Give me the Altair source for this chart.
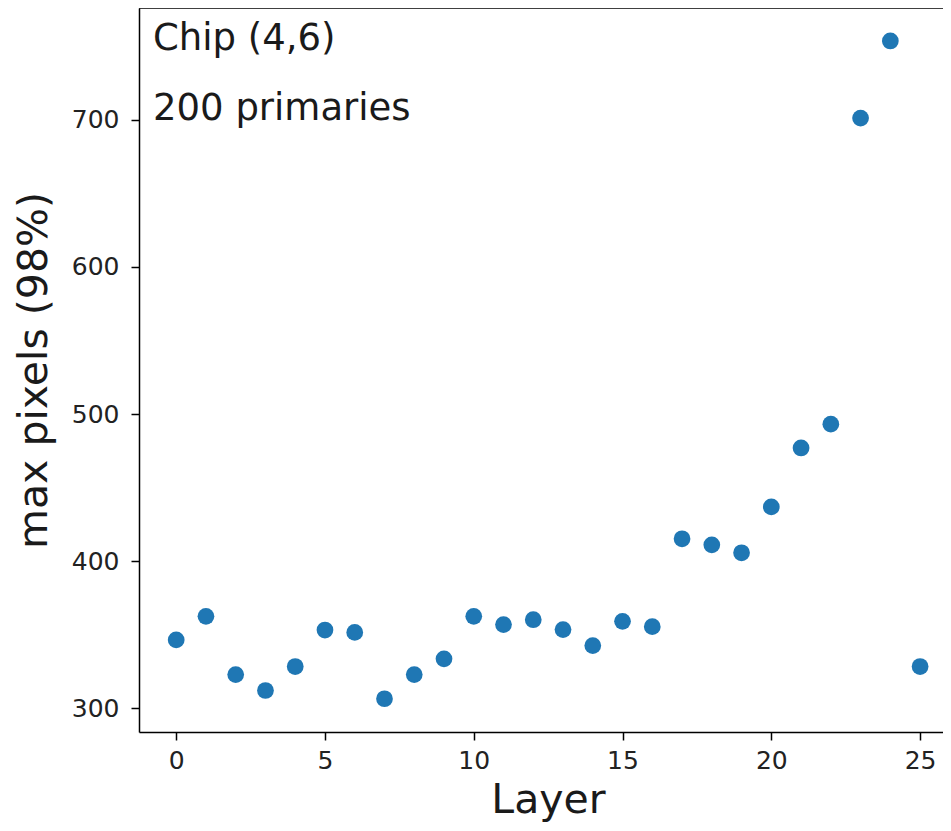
import altair as alt
import pandas as pd

layers = list(range(26))
max_pixels = [346.6, 362.6, 323.0, 312.2, 328.5, 353.3, 351.7, 306.6, 323.0, 333.7,
              362.6, 357.0, 360.3, 353.6, 342.7, 359.2, 355.6, 415.3, 411.2, 405.8,
              437.0, 477.0, 493.2, 701.2, 753.6, 328.5]
x_ticks = [0, 5, 10, 15, 20, 25]
y_ticks = [300, 400, 500, 600, 700]
annotations = ["Chip (4,6)", "200 primaries"]

df = pd.DataFrame({"Layer": layers, "max": max_pixels})

FONT = "DejaVu Sans"
W, H = 804, 724

points = alt.Chart(df).mark_circle(size=280, opacity=1, color="#1f77b4").encode(
    x=alt.X("Layer:Q", scale=alt.Scale(domain=[-1.25, 25.77], nice=False, zero=False),
            axis=alt.Axis(values=x_ticks, title="Layer", grid=False, tickSize=8,
                          labelPadding=8, titlePadding=7, titleX=409, labelFontSize=25,
                          titleFontSize=41, titleFontWeight="normal")),
    y=alt.Y("max:Q", scale=alt.Scale(domain=[284.0, 776.0], nice=False, zero=False),
            axis=alt.Axis(values=y_ticks, title="max pixels (98%)", grid=False, tickSize=8,
                          labelPadding=12, titlePadding=16, labelFontSize=25,
                          titleFontSize=41, titleFontWeight="normal")),
)

def note(text, ypix):
    return alt.Chart(pd.DataFrame({"t": [text]})).mark_text(
        align="left", baseline="alphabetic", fontSize=37, font=FONT, color="#1a1a1a"
    ).encode(text="t:N", x=alt.value(14), y=alt.value(ypix))

top_border = alt.Chart(pd.DataFrame({"t": [0]})).mark_rule(
    color="black", strokeWidth=1.5
).encode(x=alt.value(0), x2=alt.value(W), y=alt.value(0))

chart = alt.layer(points, note(annotations[0], 42), note(annotations[1], 112), top_border).properties(
    width=W, height=H,
    autosize=alt.AutoSizeParams(type="none"),
    padding={"left": 131, "top": 0, "right": 0, "bottom": 91},
).configure_axis(
    domainColor="black", tickColor="black", labelColor="#222222", titleColor="#1a1a1a",
    labelFont=FONT, titleFont=FONT, domainWidth=1.5, tickWidth=1.5,
).configure_view(stroke=None)

chart.save("out.html", embed_options={"renderer": "svg", "actions": False})
